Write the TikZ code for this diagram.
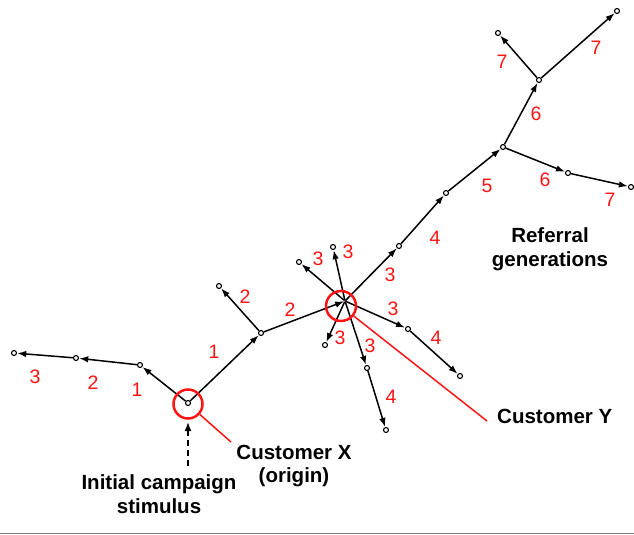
\documentclass[tikz,border=0pt]{standalone}
\usepackage{fontspec}
\setmainfont{Liberation Sans}
\usetikzlibrary{arrows.meta}
\definecolor{refred}{RGB}{255,20,20}
\tikzset{
  pt/.style={circle,draw=black,line width=1.1pt,fill=white,inner sep=0pt,minimum size=5pt},
  hub/.style={circle,inner sep=0pt,minimum size=1pt},
  link/.style={line width=1.5pt,-{Latex[length=9pt,width=6.5pt]},shorten >=0.2pt},
  gen/.style={text=refred,font=\fontsize{19.5}{19.5}\selectfont,inner sep=0pt},
  tag/.style={font=\bfseries\fontsize{20.5}{23.5}\selectfont,align=center,inner sep=0pt},
  ring/.style={circle,draw=refred,line width=2.5pt,inner sep=0pt},
  pointer/.style={draw=refred,line width=1.5pt}
}
\begin{document}
\begin{tikzpicture}[x=1pt,y=-1pt]
\useasboundingbox (0,0) rectangle (634,535);

% referral tree nodes
\node[pt] (O) at (188,403) {};
\node[pt] (L1) at (140,365) {};
\node[pt] (L2) at (76,358) {};
\node[pt] (L3) at (14,353) {};
\node[pt] (A) at (261,333) {};
\node[pt] (B) at (219,286) {};
\node[hub] (Y) at (345,301) {};
\node[pt] (Y1) at (299,262) {};
\node[pt] (Y2) at (333,247) {};
\node[pt] (Y3) at (399,246) {};
\node[pt] (Y4) at (408,329) {};
\node[pt] (Y5) at (325,345) {};
\node[pt] (Y6) at (367,368) {};
\node[pt] (Y4a) at (460,376) {};
\node[pt] (Y6a) at (386,430) {};
\node[pt] (G4) at (446,193) {};
\node[pt] (G5) at (503,147) {};
\node[pt] (G6a) at (539,80) {};
\node[pt] (G6b) at (568,173) {};
\node[pt] (G7a) at (498,33) {};
\node[pt] (G7b) at (617,11) {};
\node[pt] (G7c) at (631,187) {};

% referral links
\draw[link] (O) -- (L1);
\draw[link] (L1) -- (L2);
\draw[link] (L2) -- (L3);
\draw[link] (O) -- (A);
\draw[link] (A) -- (B);
\draw[link] (A) -- (Y);
\foreach \t in {Y1,Y2,Y3,Y4,Y5,Y6} \draw[link] (Y) -- (\t);
\draw[link] (Y4) -- (Y4a);
\draw[link] (Y6) -- (Y6a);
\draw[link] (Y3) -- (G4);
\draw[link] (G4) -- (G5);
\draw[link] (G5) -- (G6a);
\draw[link] (G5) -- (G6b);
\draw[link] (G6a) -- (G7a);
\draw[link] (G6a) -- (G7b);
\draw[link] (G6b) -- (G7c);

% generation numbers
\node[gen] (n1) at (35,377) {3};
\node[gen] (n2) at (93,383) {2};
\node[gen] (n3) at (137,390) {1};
\node[gen] (n4) at (214,352) {1};
\node[gen] (n5) at (245,297) {2};
\node[gen] (n6) at (290,310) {2};
\node[gen] (n7) at (318,259) {3};
\node[gen] (n8) at (348,252) {3};
\node[gen] (n9) at (390,275) {3};
\node[gen] (n10) at (393,309) {3};
\node[gen] (n11) at (340,338) {3};
\node[gen] (n12) at (370,346) {3};
\node[gen] (n13) at (436,338) {4};
\node[gen] (n14) at (391,397) {4};
\node[gen] (n15) at (435,238) {4};
\node[gen] (n16) at (487,186) {5};
\node[gen] (n17) at (536,114) {6};
\node[gen] (n18) at (545,180) {6};
\node[gen] (n19) at (502,62) {7};
\node[gen] (n20) at (596,48) {7};
\node[gen] (n21) at (610,200) {7};

% highlighted customers
\node[ring,minimum size=29pt] (cx) at (188,404) {};
\node[ring,minimum size=30pt] (cy) at (341,306) {};
\coordinate (cxend) at (231,442);
\coordinate (cyend) at (487,421);
\draw[pointer] (cx) -- (cxend);
\draw[pointer] (cy) -- (cyend);

% captions
\node[tag] (refgen) at (550,249) {Referral\\generations};
\node[tag,anchor=west] (custy) at (497,416) {Customer Y};
\node[tag] (custx) at (294,466) {Customer X\\(origin)};
\node[tag] (stim) at (159,494) {Initial campaign\\stimulus};

% campaign stimulus arrow
\coordinate (stimtop) at (188,466);
\coordinate (stimtip) at (188,422);
\draw[line width=1.6pt,dash pattern=on 6pt off 4pt,-{Latex[length=9pt,width=7pt]}] (stimtop) -- (stimtip);

% bottom rule
\coordinate (ruleL) at (0,533.5);
\coordinate (ruleR) at (634,533.5);
\draw[gray,line width=1pt] (ruleL) -- (ruleR);
\end{tikzpicture}
\end{document}
